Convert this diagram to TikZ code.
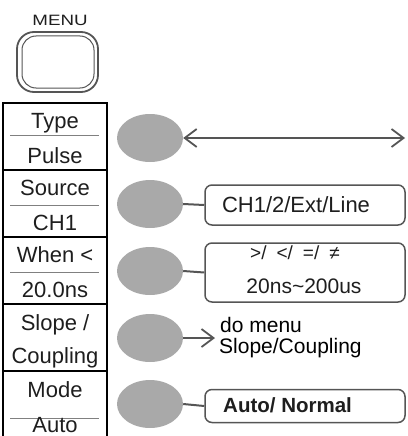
\documentclass[tikz,border=0pt]{standalone}
\usepackage{fontspec}
\usepackage{graphicx}
\setmainfont{Liberation Sans}
\usetikzlibrary{arrows.meta,shapes.geometric}
\definecolor{btn}{HTML}{A9A9A9}
\definecolor{ln}{HTML}{555555}
\definecolor{txt}{HTML}{1E1E1E}
\begin{document}
\begin{tikzpicture}[x=1pt,y=-1pt,
  panel/.style={draw=black,line width=1.8pt},
  sep/.style={draw=gray,line width=1pt},
  lbl/.style={font=\fontsize{22}{24}\selectfont,inner sep=0pt,anchor=base,text=txt},
  knob/.style={ellipse,fill=btn,minimum width=66pt,minimum height=48pt,inner sep=0pt},
  optbox/.style={draw=ln,line width=1.5pt,rounded corners=7pt,minimum width=200pt,inner sep=0pt},
  btxt/.style={font=\fontsize{21}{24}\selectfont,inner sep=0pt,anchor=base,text=txt},
  conn/.style={draw=ln,line width=2pt},
  arr/.style={conn,-{Straight Barb[length=12pt,width=18pt,line width=1.8pt]}}
]
\useasboundingbox (0,0) rectangle (407,436);
% MENU
\node[font=\fontsize{15}{16}\selectfont,inner sep=0pt,anchor=base,text=txt] (menut) at (60,26) {\scalebox{1.25}[1]{MENU}};
\draw[line width=1.8pt,draw=ln,rounded corners=17pt] (17,32) rectangle (98,92);
\draw[line width=1pt,draw=ln,rounded corners=14pt] (22,36) rectangle (94,88);
% panel
\foreach \t in {103,170,237,304,371}{
  \draw[panel] (3,\t) rectangle (107,\t+67);
}
\foreach \y in {135,205,272,418}{
  \draw[sep] (10,\y) -- (99,\y);
}
\node[lbl] (t1) at (55,128) {Type};
\node[lbl] (t2) at (55,163) {Pulse};
\node[lbl] (t3) at (55,195) {Source};
\node[lbl] (t4) at (55,230) {CH1};
\node[lbl] (t5) at (55,262) {When <};
\node[lbl] (t6) at (55,297) {20.0ns};
\node[lbl] (t7) at (55,330) {Slope /};
\node[lbl] (t8) at (55,363) {Coupling};
\node[lbl] (t9) at (55,397) {Mode};
\node[lbl] (t10) at (55,432) {Auto};
% knobs
\node[knob] (k1) at (150,138) {};
\node[knob] (k2) at (150,204) {};
\node[knob] (k3) at (150,271) {};
\node[knob] (k4) at (150,338) {};
\node[knob] (k5) at (150,404) {};
% row 1
\coordinate (r1) at (405,138);
\draw[conn,{Straight Barb[length=12pt,width=18pt,line width=1.8pt]}-{Straight Barb[length=12pt,width=18pt,line width=1.8pt]}] (k1.east) -- (r1);
% row 2
\node[optbox,minimum height=40pt] (b2) at (305,205) {};
\node[btxt,font=\fontsize{22}{24}\selectfont] (b2t) at (296,212) {CH1/2/Ext/Line};
\draw[conn] (k2.east) -- (b2.west);
% row 3
\node[optbox,minimum height=59pt] (b3) at (305,272.5) {};
\node[btxt,font=\fontsize{19}{20}\selectfont] (b3a) at (295,259) {>/\hspace{10pt}</\hspace{10pt}=/\hspace{10pt}≠};
\node[btxt] (b3b) at (304,293) {20ns\textasciitilde200us};
\draw[conn] (k3.east) -- (b3.west);
% row 4
\coordinate (a4) at (215,338);
\draw[arr] (k4.east) -- (a4);
\node[anchor=base west,font=\fontsize{21}{21}\selectfont,inner sep=0pt] (d4a) at (220,332) {do menu};
\node[anchor=base west,font=\fontsize{21}{21}\selectfont,inner sep=0pt] (d4b) at (219,353) {Slope/Coupling};
% row 5
\node[optbox,minimum height=33pt] (b5) at (305,406) {};
\node[btxt,font=\fontsize{20.5}{22}\selectfont\bfseries,anchor=base west] (b5t) at (223,412) {Auto/ Normal};
\draw[conn] (k5.east) -- (b5.west);
\end{tikzpicture}
\end{document}
